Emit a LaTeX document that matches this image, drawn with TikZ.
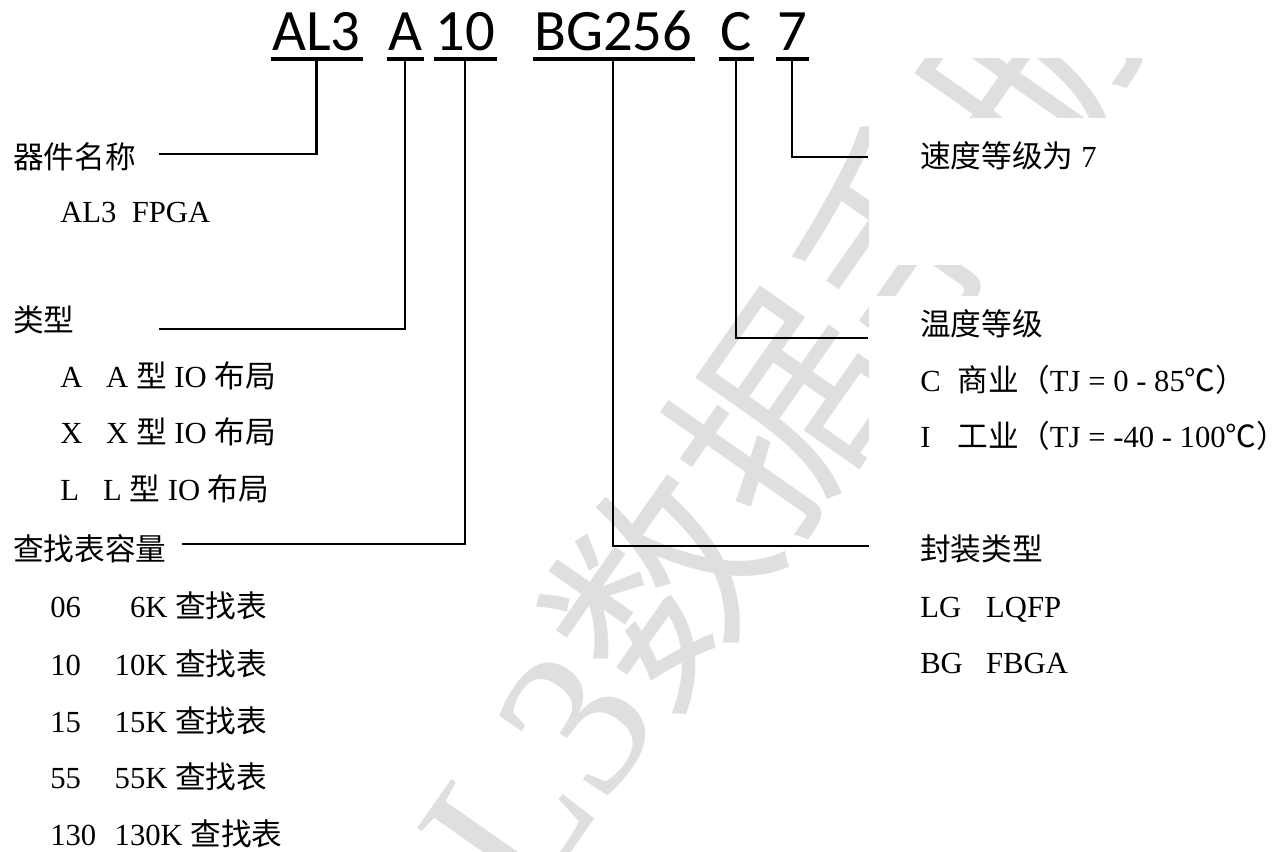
\documentclass[tikz,border=0pt]{standalone}
\usepackage{fontspec}
\setmainfont{Liberation Serif}
\newfontfamily\cjk{Noto Sans CJK SC}
\newfontfamily\codefont{Carlito}
\usetikzlibrary{positioning}
\definecolor{markgray}{RGB}{223,223,223}
\newcommand{\zh}[1]{{\cjk #1}}

\begin{document}
\begin{tikzpicture}[x=0.75pt,y=-0.75pt,line cap=butt,line join=miter,
  code/.style={anchor=base west,inner sep=0pt,font=\codefont\fontsize{44}{50}\selectfont},
  lbl/.style={anchor=base west,inner sep=0pt,font=\fontsize{23}{28}\selectfont},
  link/.style={line width=1.7pt},
  uline/.style={line width=3pt}]
\useasboundingbox (0,0) rectangle (1285,851);
% Wasserzeichen hinter allem, rechte Spalte weiss abgedeckt
\node[rotate=55,anchor=base west,inner sep=0pt,text=markgray,
  font=\fontsize{160}{165}\selectfont] (mark) at (440,1040) {AL3\zh{数据手册}};
\fill[white] (869,0) rectangle (1285,58);
\fill[white] (869,118) rectangle (1285,265);
\fill[white] (869,296) rectangle (1285,851);
% Bestellcode
\node[code] (al3) at (272,50) {AL3};
\node[code] (ca)  at (388,50) {A};
\node[code] (c10) at (435,50) {10};
\node[code] (cbg) at (534,50) {BG256};
\node[code] (cc)  at (720,50) {C};
\node[code] (c7)  at (777,50) {7};
\foreach \c in {al3,ca,c10,cbg,cc,c7}
  \draw[uline] ([xshift=-1pt,yshift=-7pt]\c.base west)--([xshift=1.5pt,yshift=-7pt]\c.base east);
% linke Spalte
\node[lbl] (name) at (13,168) {\zh{器件名称}};
\node[lbl] (nameSub) at (60,222) {AL3\ \ FPGA};
\node[lbl] (type) at (13,331) {\zh{类型}};
\node[lbl] (typeA) at (60,387) {\makebox[1.5em][l]{A}A \zh{型} IO \zh{布局}};
\node[lbl] (typeX) at (60,443) {\makebox[1.5em][l]{X}X \zh{型} IO \zh{布局}};
\node[lbl] (typeL) at (60,500) {\makebox[1.4em][l]{L}L \zh{型} IO \zh{布局}};
\node[lbl] (lut) at (13,560) {\zh{查找表容量}};
\foreach \cd/\sz/\y [count=\i] in {06/\phantom{0}6K/617,10/10K/675,15/15K/732,55/55K/788,130/130K/845}
  \node[lbl] (lut\i) at (50,\y) {\makebox[2.1em][l]{\cd}\sz\ \zh{查找表}};
% rechte Spalte
\node[lbl] (speed) at (920,167) {\zh{速度等级为} 7};
\node[lbl] (temp) at (920,335) {\zh{温度等级}};
\node[lbl] (tempC) at (920,391) {\makebox[1.23em][l]{C}\zh{商业（}TJ = 0 - 85\zh{℃）}};
\node[lbl] (tempI) at (920,447) {\makebox[1.23em][l]{I}\zh{工业（}TJ = -40 - 100\zh{℃）}};
\node[lbl] (pkg) at (920,560) {\zh{封装类型}};
\node[lbl] (pkgLG) at (920,617) {\makebox[2.15em][l]{LG}LQFP};
\node[lbl] (pkgBG) at (920,673) {\makebox[2.15em][l]{BG}FBGA};
% freie Enden der Verbinder
\coordinate (nameEnd) at (159,154);
\coordinate (typeEnd) at (159,329);
\coordinate (lutEnd) at (182,544);
\coordinate (speedEnd) at (868,157);
\coordinate (tempEnd) at (868,338);
\coordinate (pkgEnd) at (869,546);
\draw[link] ([yshift=-7pt]al3.base) |- (nameEnd);
\draw[link] ([yshift=-7pt]ca.base) |- (typeEnd);
\draw[link] ([yshift=-7pt]c10.base) |- (lutEnd);
\draw[link] ([yshift=-7pt]cbg.base) |- (pkgEnd);
\draw[link] ([yshift=-7pt]cc.base) |- (tempEnd);
\draw[link] ([yshift=-7pt]c7.base) |- (speedEnd);
\end{tikzpicture}
\end{document}
